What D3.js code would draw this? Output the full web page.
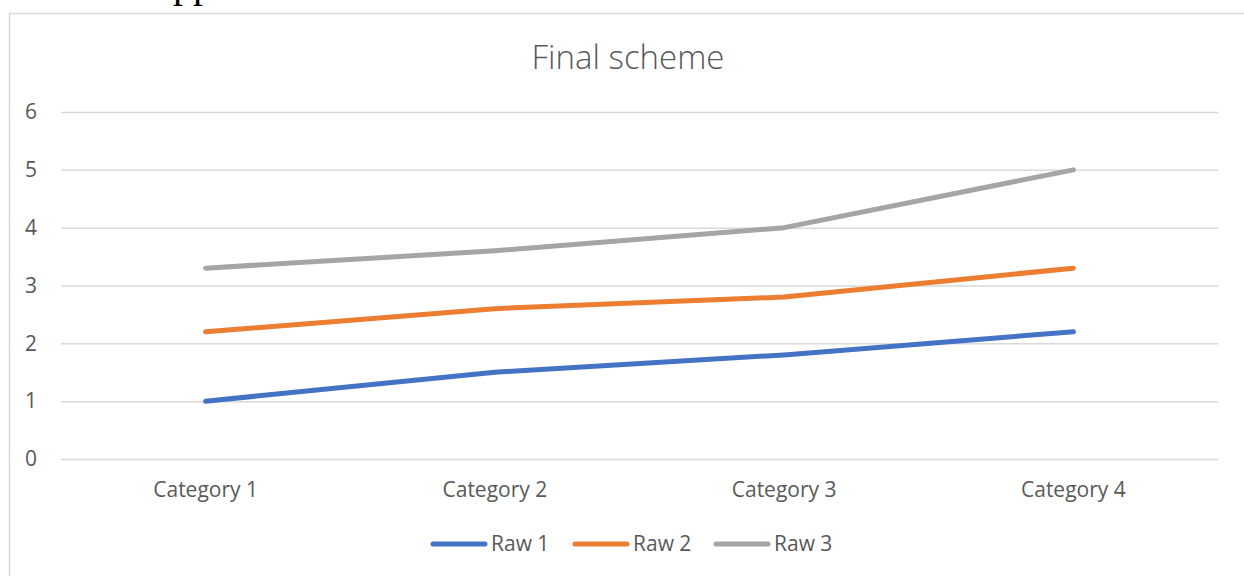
<!DOCTYPE html>
<html>
<head>
<meta charset="utf-8">
<script src="https://cdn.jsdelivr.net/npm/d3@7"></script>
<style>
  body { margin: 0; background: #fff; }
  svg { display: block; }
  text { font-family: "Open Sans", "Liberation Sans", sans-serif; fill: #595959; }
</style>
</head>
<body>
<div id="chart"></div>
<script>
// --------- Data --------- //
var categories = ["Category 1", "Category 2", "Category 3", "Category 4"];
var raw1 = [1, 1.5, 1.8, 2.2];
var raw2 = [2.2, 2.6, 2.8, 3.3];
var raw3 = [3.3, 3.6, 4, 5];
var seriesNames = ["Raw 1", "Raw 2", "Raw 3"];
var seriesColors = ["#4472C4", "#ED7D31", "#A5A5A5"];
var yTicks = [0, 1, 2, 3, 4, 5, 6];
// --------- /Data --------- //

var W = 1244, H = 576;
var plot = {left: 61, right: 1218, top: 112, bottom: 459};

var svg = d3.select("#chart").append("svg")
	.attr("width", W)
	.attr("height", H);

// stray text of the page above the chart (only descenders visible)
svg.append("text")
	.attr("x", 173).attr("y", -3)
	.style("font-family", "'Liberation Serif', serif")
	.style("font-size", "40px")
	.style("fill", "#000")
	.text("pp");

// chart frame
svg.append("rect")
	.attr("x", 9.5).attr("y", 13.5)
	.attr("width", W + 20).attr("height", H + 20)
	.attr("fill", "none")
	.attr("stroke", "#D9D9D9")
	.attr("stroke-width", 1.5);

var x = d3.scaleBand().domain(categories).range([plot.left, plot.right]);
var y = d3.scaleLinear().domain([0, 6]).range([plot.bottom, plot.top]);

// gridlines + y labels
var yAxis = d3.axisLeft(y)
	.tickValues(yTicks)
	.tickFormat(d3.format("d"))
	.tickSize(-(plot.right - plot.left))
	.tickPadding(24);

var gy = svg.append("g")
	.attr("transform", "translate(" + plot.left + ",0)")
	.call(yAxis);
gy.select(".domain").remove();
gy.selectAll(".tick line").attr("stroke", "#D9D9D9").attr("stroke-width", 1.5);
gy.selectAll(".tick text")
	.style("font-size", "21px")
	.style("fill", "#595959")
	.style("font-family", "'Open Sans', sans-serif");

// x labels
var xAxis = d3.axisBottom(x).tickSize(0).tickPadding(23);
var gx = svg.append("g")
	.attr("transform", "translate(0," + plot.bottom + ")")
	.call(xAxis);
gx.select(".domain").remove();
gx.selectAll(".tick text")
	.style("font-size", "21px")
	.style("fill", "#595959")
	.style("font-family", "'Open Sans', sans-serif");

// lines
var allSeries = [raw1, raw2, raw3];
var line = d3.line()
	.x(function(d, i){ return x(categories[i]) + x.bandwidth() / 2; })
	.y(function(d){ return y(d); });

svg.append("g").selectAll("path")
	.data(allSeries)
	.enter().append("path")
	.attr("d", line)
	.attr("fill", "none")
	.attr("stroke", function(d, i){ return seriesColors[i]; })
	.attr("stroke-width", 5)
	.attr("stroke-linecap", "round")
	.attr("stroke-linejoin", "round");

// title
svg.append("text")
	.attr("x", 628).attr("y", 69)
	.attr("text-anchor", "middle")
	.style("font-size", "33px")
	.style("font-weight", 300)
	.text("Final scheme");

// legend
var legendX = [433, 575, 716];
var lg = svg.append("g").selectAll("g")
	.data(seriesNames)
	.enter().append("g")
	.attr("transform", function(d, i){ return "translate(" + legendX[i] + ",544)"; });
lg.append("line")
	.attr("x1", 0).attr("x2", 52)
	.attr("stroke", function(d, i){ return seriesColors[i]; })
	.attr("stroke-width", 5)
	.attr("stroke-linecap", "round");
lg.append("text")
	.attr("x", 58).attr("y", 7)
	.style("font-size", "21px")
	.text(function(d){ return d; });
</script>
</body>
</html>
